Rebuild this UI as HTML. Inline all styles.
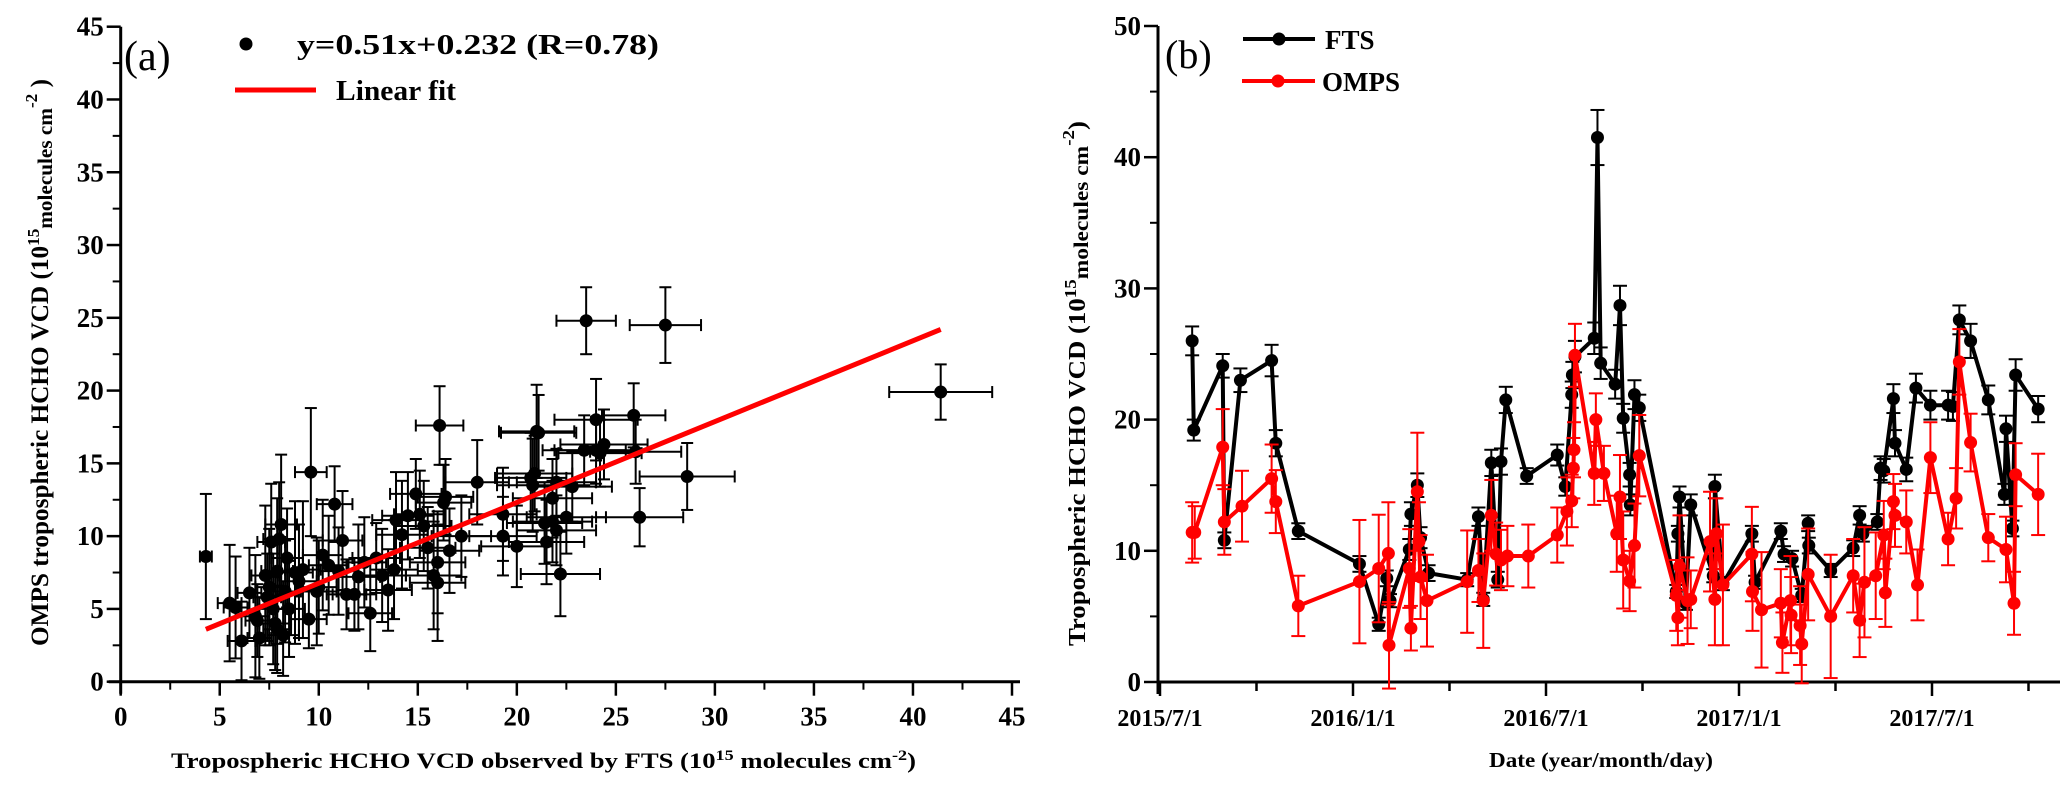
<!DOCTYPE html>
<html><head><meta charset="utf-8"><style>
html,body{margin:0;padding:0;background:#fff;}
svg{display:block;font-family:"Liberation Serif",serif;}
</style></head><body>
<svg id="fig" width="2067" height="795" viewBox="0 0 2067 795" xmlns="http://www.w3.org/2000/svg">
<g id="pa"></g>
<g id="pb"></g>
<text x="124" y="70" font-size="42">(a)</text>
<circle cx="246" cy="44" r="6.5" fill="#000"/>
<text x="297" y="54" font-size="28" font-weight="bold" textLength="362" lengthAdjust="spacingAndGlyphs">y=0.51x+0.232  (R=0.78)</text>
<line x1="235" y1="90" x2="316" y2="90" stroke="#f00" stroke-width="5"/>
<text x="336" y="100" font-size="28" font-weight="bold" textLength="120" lengthAdjust="spacingAndGlyphs">Linear  fit</text>
<text x="171" y="768" font-size="22" font-weight="bold" textLength="745" lengthAdjust="spacingAndGlyphs">Tropospheric HCHO VCD observed by FTS (10<tspan dy="-8" font-size="15">15</tspan><tspan dy="8"> molecules cm</tspan><tspan dy="-8" font-size="15">-2</tspan><tspan dy="8">)</tspan></text>
<text transform="translate(48,646) rotate(-90)" font-size="25" font-weight="bold" textLength="567" lengthAdjust="spacingAndGlyphs">OMPS  tropospheric HCHO VCD (10<tspan dy="-9" font-size="17">15</tspan><tspan dy="13" font-size="21">molecules cm</tspan><tspan dy="-15" font-size="17">-2</tspan><tspan dy="11"> )</tspan></text>
<text x="1165" y="68" font-size="40">(b)</text>
<g><line x1="1243" y1="39" x2="1315" y2="39" stroke="#000" stroke-width="4"/><circle cx="1279" cy="39" r="6.5" fill="#000"/><text x="1325" y="49" font-size="27" font-weight="bold">FTS</text></g>
<g><line x1="1242" y1="81" x2="1315" y2="81" stroke="#f00" stroke-width="4"/><circle cx="1278" cy="81" r="6.5" fill="#f00"/><text x="1322" y="91" font-size="27" font-weight="bold">OMPS</text></g>
<text x="1489" y="767" font-size="21" font-weight="bold" textLength="224" lengthAdjust="spacingAndGlyphs">Date (year/month/day)</text>
<text transform="translate(1085,646) rotate(-90)" font-size="24" font-weight="bold" textLength="525" lengthAdjust="spacingAndGlyphs">Tropospheric HCHO VCD (10<tspan dy="-9" font-size="17">15</tspan><tspan dy="12" font-size="21">molecules cm</tspan><tspan dy="-14" font-size="17">-2</tspan><tspan dy="11">)</tspan></text>
</svg>
<script>
// ---- Panel (a) data ----
const scatFts = [4.3,5.5,5.8,6.1,6.5,6.8,7.0,7.3,7.5,7.6,7.7,7.8,7.9,8.0,8.1,8.2,8.3,8.5,8.8,9.0,9.2,9.6,9.5,9.9,10.2,10.5,10.8,11.2,11.4,11.8,12.0,12.3,12.6,12.9,13.2,13.5,13.8,13.9,14.2,14.5,14.9,15.1,15.3,15.5,15.8,16.0,16.0,16.1,16.3,16.4,16.6,17.2,18.0,19.3,19.3,20.0,20.7,20.8,20.9,21.0,21.1,21.4,21.5,21.8,21.8,22.0,22.0,22.2,22.5,22.8,23.4,23.5,24.0,24.0,24.2,24.4,25.9,26.2,26.0,27.5,28.6,41.4,7.4,7.9,8.4,6.9,10.0,11.0];
const scatOmps = [8.6,5.4,5.1,2.8,6.1,4.5,3.0,7.3,6.5,9.6,5.0,4.0,7.6,9.8,10.8,3.2,6.2,5.0,7.5,6.9,7.7,14.4,4.3,6.2,8.7,8.0,12.2,9.7,6.0,6.0,7.2,8.2,4.7,8.5,7.3,6.3,7.7,11.1,10.1,11.4,12.9,11.5,10.7,9.2,7.3,6.8,8.2,17.6,12.3,12.7,9.0,10.0,13.7,11.5,10.0,9.3,14.0,13.5,14.3,17.2,17.1,10.9,9.6,11.0,12.6,13.7,10.4,7.4,11.3,13.4,15.9,24.8,18.0,15.9,15.7,16.3,18.3,11.3,15.8,24.5,14.1,19.9,5.8,3.6,8.5,4.2,6.5,7.6];
const scatXErr = [0.3,0.6,0.6,0.7,0.6,0.7,0.6,0.7,0.7,0.7,0.7,0.8,0.8,0.8,0.8,0.8,0.8,0.8,0.9,0.9,0.9,0.8,0.9,1.0,1.0,1.0,0.9,1.0,1.0,1.1,1.1,1.1,1.1,1.2,1.2,1.2,1.2,1.2,1.3,1.3,1.3,1.3,1.4,1.4,1.4,1.4,1.4,1.2,1.4,1.4,1.5,1.5,1.6,1.7,1.7,1.8,1.8,1.8,1.9,1.9,1.9,1.9,1.9,2.0,2.0,2.0,2.0,2.0,2.0,2.0,2.1,1.5,2.1,2.1,2.1,2.2,1.6,2.2,2.3,1.8,2.4,2.6,0.7,0.7,0.8,0.6,0.9,1.0];
const scatYErr = [4.3,4.0,3.5,2.7,3.1,4.2,2.8,4.8,4.0,4.0,3.8,3.2,5.0,3.9,4.8,2.8,3.5,3.3,4.9,3.9,4.7,4.4,2.0,3.7,3.8,3.4,2.6,3.4,2.4,2.5,3.6,3.1,2.6,2.4,3.2,2.8,3.4,3.3,3.7,3.0,2.4,3.0,3.1,2.8,3.7,4.0,3.5,2.7,2.6,2.6,2.9,2.8,2.9,3.2,2.7,2.8,3.1,3.2,2.6,3.2,2.6,2.8,2.9,2.8,2.7,2.3,2.4,2.9,2.5,2.4,2.4,2.3,2.8,2.3,2.3,2.4,2.2,2.0,2.2,2.6,2.3,1.9,3.0,3.0,3.4,2.5,3.2,3.0];
const fitX = [4.3,41.4];
const fitY = [3.6,24.2];
const aXTicks = [0,5,10,15,20,25,30,35,40,45];
const aYTicks = [0,5,10,15,20,25,30,35,40,45];

// ---- Panel (b) data (months since 2015/7/1) ----
const dateLabels = ["2015/7/1","2016/1/1","2016/7/1","2017/1/1","2017/7/1"];
const dateTickMonths = [0,6,12,18,24];
const bYTicks = [0,10,20,30,40,50];
const ftsMonths = [1.0,1.05,1.95,2.0,2.5,3.47,3.6,4.3,6.2,6.8,7.05,7.15,7.75,7.8,8.0,8.1,8.35,9.55,9.9,10.05,10.3,10.5,10.6,10.75,11.4,12.35,12.6,12.8,12.82,12.9,13.5,13.6,13.7,14.15,14.3,14.4,14.6,14.62,14.75,14.9,16.05,16.1,16.15,16.35,16.5,17.2,17.25,17.5,18.4,18.5,19.3,19.4,19.65,19.95,20.15,20.17,20.85,21.55,21.75,21.85,22.3,22.4,22.5,22.8,22.85,23.2,23.5,23.95,24.5,24.65,24.85,25.2,25.75,26.25,26.3,26.5,26.6,27.3];
const ftsValues = [26.0,19.2,24.1,10.8,23.0,24.5,18.2,11.5,9.0,4.4,7.9,6.2,10.1,12.8,15.0,11.0,8.3,7.8,12.6,6.3,16.7,7.8,16.8,21.5,15.7,17.3,14.9,21.9,23.4,24.8,26.2,41.5,24.3,22.7,28.7,20.1,15.8,13.5,21.9,20.9,6.9,11.3,14.1,6.0,13.5,8.1,14.9,7.5,11.3,7.6,11.5,9.75,9.4,6.6,12.1,10.4,8.5,10.2,12.7,11.3,12.2,16.3,16.1,21.6,18.2,16.2,22.4,21.1,21.1,21.0,27.6,26.0,21.5,14.3,19.3,11.7,23.4,20.8];
const ftsErr = [1.1,0.8,0.9,0.6,0.9,1.2,1.0,0.6,0.6,0.5,0.6,0.5,0.8,0.9,0.9,0.8,0.6,0.5,0.7,0.5,1.0,0.6,1.0,1.0,0.6,0.8,0.7,1.0,1.0,1.2,1.2,2.1,1.2,1.1,1.5,1.1,0.9,0.8,1.1,1.0,0.5,0.6,0.8,0.5,0.8,0.5,0.9,0.5,0.6,0.5,0.6,0.6,0.6,0.5,0.6,0.6,0.5,0.6,0.7,0.6,0.6,0.9,0.9,1.1,1.0,0.9,1.1,1.1,1.1,1.1,1.1,1.3,1.1,0.8,1.0,0.6,1.2,1.0];
const ompsMonths = [1.0,1.08,1.95,2.0,2.55,3.47,3.6,4.3,6.2,6.8,7.1,7.12,7.75,7.8,8.0,8.05,8.1,8.3,9.55,9.9,10.05,10.3,10.45,10.6,10.8,11.45,12.35,12.65,12.8,12.85,12.87,12.9,13.5,13.55,13.8,14.2,14.3,14.4,14.6,14.75,14.9,16.05,16.1,16.15,16.4,16.5,17.1,17.25,17.3,17.5,18.4,18.42,18.7,19.3,19.35,19.6,19.62,19.9,19.95,20.15,20.85,21.55,21.75,21.9,22.25,22.5,22.55,22.8,22.85,23.2,23.55,23.95,24.5,24.75,24.85,25.2,25.75,26.3,26.55,26.6,27.3];
const ompsValues = [11.4,11.4,17.9,12.2,13.4,15.5,13.75,5.8,7.65,8.65,9.8,2.8,8.65,4.1,14.5,10.7,8.0,6.2,7.65,8.5,6.2,12.7,9.75,9.3,9.6,9.6,11.2,13.0,13.8,16.3,17.7,24.9,15.9,20.0,15.9,11.3,14.1,9.3,7.7,10.4,17.25,6.6,4.9,8.8,6.2,6.3,10.7,6.3,11.3,7.4,9.75,6.9,5.5,6.0,3.0,6.2,5.1,4.3,2.9,8.2,5.0,8.1,4.7,7.6,8.1,11.2,6.8,13.75,12.7,12.2,7.4,17.1,10.9,14.0,24.4,18.25,11.0,10.1,6.0,15.8,14.3];
const ompsErr = [2.3,2.0,2.9,2.5,2.7,2.6,2.4,2.3,4.7,4.1,3.9,3.3,3.0,1.7,4.5,3.0,3.2,3.5,3.9,2.4,3.6,2.7,2.4,2.3,2.3,2.4,2.1,2.6,2.0,2.3,2.1,2.4,2.4,2.0,2.1,2.9,3.2,3.7,2.3,3.2,3.1,2.7,2.1,3.9,3.3,2.2,3.8,3.5,2.7,4.6,3.6,3.0,4.4,2.6,2.3,3.4,2.9,3.0,3.0,3.5,4.7,2.8,2.8,4.2,3.3,2.6,2.6,2.1,2.4,2.4,2.7,2.7,2.0,2.3,2.5,2.2,1.8,2.5,2.4,2.4,3.1];

const NS = "http://www.w3.org/2000/svg";
function mk(parent, tag, attrs, txt){
  const e = document.createElementNS(NS, tag);
  for (const k in attrs) e.setAttribute(k, attrs[k]);
  if (txt !== undefined) e.textContent = txt;
  parent.appendChild(e);
  return e;
}
const A = {x0:120.7, x1:1012, y0:681.7, y1:26.7, max:45};
const ax = v => A.x0 + v/45*(A.x1-A.x0);
const ay = v => A.y0 - v/45*(A.y0-A.y1);
const B = {x0:1158, xEnd:2060, y0:682, y1:26};
const bx = m => 1160 + m*(1932-1160)/24;
const by = v => B.y0 - v/50*(B.y0-B.y1);

// Panel A axes
const pa = document.getElementById('pa');
let g = mk(pa,'g',{});


mk(g,'line',{x1:A.x0-12,y1:A.y0,x2:A.x1+8,y2:A.y0,stroke:'#000','stroke-width':3});
aXTicks.forEach((t,i)=>{
  mk(g,'line',{x1:ax(t),y1:A.y0,x2:ax(t),y2:A.y0+14,stroke:'#000','stroke-width':2.5});
  if (i<aXTicks.length-1) mk(g,'line',{x1:ax(t+2.5),y1:A.y0,x2:ax(t+2.5),y2:A.y0+8,stroke:'#000','stroke-width':2});
  const l = mk(g,'text',{x:ax(t),y:A.y0+44,'font-size':27,'font-weight':'bold','text-anchor':'middle'},String(t));
  
  
});
g = mk(pa,'g',{});


mk(g,'line',{x1:A.x0,y1:A.y0+12,x2:A.x0,y2:A.y1,stroke:'#000','stroke-width':3});
aYTicks.forEach((t,i)=>{
  mk(g,'line',{x1:A.x0-14,y1:ay(t),x2:A.x0,y2:ay(t),stroke:'#000','stroke-width':2.5});
  if (i<aYTicks.length-1) mk(g,'line',{x1:A.x0-8,y1:ay(t+2.5),x2:A.x0,y2:ay(t+2.5),stroke:'#000','stroke-width':2});
  const l = mk(g,'text',{x:A.x0-17,y:ay(t)+9,'font-size':27,'font-weight':'bold','text-anchor':'end'},String(t));
  
  
});
// scatter
scatFts.forEach((xv,i)=>{
  const yv = scatOmps[i];
  const pg = mk(pa,'g',{stroke:'#000','stroke-width':2});
  
  
  const xe = scatXErr[i], ye = scatYErr[i];
  mk(pg,'line',{x1:ax(xv-xe),y1:ay(yv),x2:ax(xv+xe),y2:ay(yv)});
  mk(pg,'line',{x1:ax(xv-xe),y1:ay(yv)-6,x2:ax(xv-xe),y2:ay(yv)+6});
  mk(pg,'line',{x1:ax(xv+xe),y1:ay(yv)-6,x2:ax(xv+xe),y2:ay(yv)+6});
  mk(pg,'line',{x1:ax(xv),y1:ay(yv-ye),x2:ax(xv),y2:ay(yv+ye)});
  mk(pg,'line',{x1:ax(xv)-6,y1:ay(yv-ye),x2:ax(xv)+6,y2:ay(yv-ye)});
  mk(pg,'line',{x1:ax(xv)-6,y1:ay(yv+ye),x2:ax(xv)+6,y2:ay(yv+ye)});
  mk(pg,'circle',{cx:ax(xv),cy:ay(yv),r:6.5,fill:'#000',stroke:'none'});
});
const fl = mk(pa,'line',{x1:ax(fitX[0]),y1:ay(fitY[0]),x2:ax(fitX[1]),y2:ay(fitY[1]),stroke:'#f00','stroke-width':5});



// Panel B axes
const pb = document.getElementById('pb');
g = mk(pb,'g',{});


mk(g,'line',{x1:B.x0,y1:B.y0,x2:B.xEnd,y2:B.y0,stroke:'#000','stroke-width':3});
for (let m=0; m<=27; m+=3){
  const major = (m%6===0);
  mk(g,'line',{x1:bx(m),y1:B.y0,x2:bx(m),y2:B.y0+(major?14:9),stroke:'#000','stroke-width':2.5});
}
dateTickMonths.forEach((m,i)=>{
  const l = mk(g,'text',{x:bx(m),y:B.y0+44,'font-size':24,'font-weight':'bold','text-anchor':'middle'},dateLabels[i]);
  
  
});
g = mk(pb,'g',{});


mk(g,'line',{x1:B.x0,y1:B.y0+12,x2:B.x0,y2:B.y1,stroke:'#000','stroke-width':3});
bYTicks.forEach((t,i)=>{
  mk(g,'line',{x1:B.x0-14,y1:by(t),x2:B.x0,y2:by(t),stroke:'#000','stroke-width':2.5});
  if (i<bYTicks.length-1) mk(g,'line',{x1:B.x0-8,y1:by(t+5),x2:B.x0,y2:by(t+5),stroke:'#000','stroke-width':2});
  const l = mk(g,'text',{x:B.x0-17,y:by(t)+9,'font-size':27,'font-weight':'bold','text-anchor':'end'},String(t));
  
  
});
function series(months, vals, errs, color, name){
  const sg = mk(pb,'g',{});
  
  
  const idx = months.map((_,i)=>i).sort((a,b)=>months[a]-months[b]);
  const pts = idx.map(i=>bx(months[i]).toFixed(1)+','+by(vals[i]).toFixed(1)).join(' ');
  mk(sg,'polyline',{points:pts,fill:'none',stroke:color,'stroke-width':4,'stroke-linejoin':'round'});
  idx.forEach(i=>{
    const x = bx(months[i]), v = vals[i], e = errs[i];
    const pg = mk(sg,'g',{stroke:color,'stroke-width':2});
    
    
    mk(pg,'line',{x1:x,y1:by(v-e),x2:x,y2:by(v+e)});
    mk(pg,'line',{x1:x-7,y1:by(v-e),x2:x+7,y2:by(v-e)});
    mk(pg,'line',{x1:x-7,y1:by(v+e),x2:x+7,y2:by(v+e)});
    mk(pg,'circle',{cx:x,cy:by(v),r:6.5,fill:color,stroke:'none'});
  });
}
series(ftsMonths, ftsValues, ftsErr, '#000', 'fts-series');
series(ompsMonths, ompsValues, ompsErr, '#f00', 'omps-series');
</script>
</body></html>
